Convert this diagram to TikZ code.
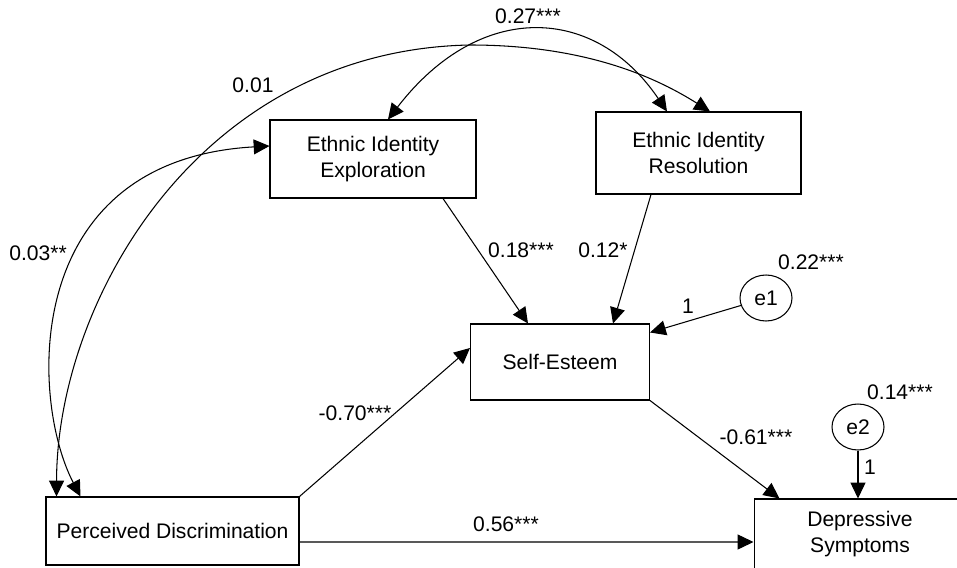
\documentclass[tikz,border=0pt]{standalone}
\usepackage{fontspec}
\setmainfont{Liberation Sans}
\usetikzlibrary{arrows.meta}
\usetikzlibrary{calc}
\usetikzlibrary{shapes.geometric}

\begin{document}
\begin{tikzpicture}[x=0.02cm, y=-0.02cm]
\tikzset{box/.style = {shape=rectangle,draw,line width=0.6pt,align=center,inner sep=0pt,font=\fontsize{12}{14.8}\selectfont}}
\tikzset{err/.style = {shape=ellipse,draw,line width=0.6pt,inner sep=0pt,minimum width=1.04cm,minimum height=0.92cm,font=\fontsize{12}{14.8}\selectfont}}
\tikzset{edge/.style = {-{Triangle[length=9pt,width=8.5pt]},line width=0.6pt}}
\tikzset{cov/.style = {{Triangle[length=9pt,width=8.5pt]}-{Triangle[length=9pt,width=8.5pt]},line width=0.6pt}}
\tikzset{lbl/.style = {inner sep=0pt,font=\fontsize{12}{14.8}\selectfont}}
\useasboundingbox (0,0) rectangle (957,568);
\node[box, minimum width=4.12cm, minimum height=1.56cm](expl) at (373,159) {Ethnic Identity\\Exploration};
\node[box, minimum width=4.1cm, minimum height=1.64cm](res) at (698.5,153) {Ethnic Identity\\Resolution};
\node[box, minimum width=5.06cm, minimum height=1.36cm](pd) at (172.5,531) {Perceived Discrimination};
\node[box, minimum width=3.58cm, minimum height=1.52cm](se) at (560,362) {Self-Esteem};
\node[box, minimum width=4.24cm, minimum height=1.42cm](dep) at (860,534.5) {Depressive\\Symptoms};
\node[err](e1) at (766,298) {e1};
\node[err](e2) at (858,427) {e2};
\node[lbl](l27) at (528,16) {0.27***};
\node[lbl](l01) at (253,85) {0.01};
\node[lbl](l03) at (38,253) {0.03**};
\node[lbl](l18) at (521,250) {0.18***};
\node[lbl](l12) at (603,250) {0.12*};
\node[lbl](l22) at (811,262) {0.22***};
\node[lbl](l1a) at (688,306) {1};
\node[lbl](l70) at (355,413) {-0.70***};
\node[lbl](l14) at (900,392) {0.14***};
\node[lbl](l61) at (756,437) {-0.61***};
\node[lbl](l1b) at (870,467) {1};
\node[lbl](l56) at (506,524) {0.56***};
% covariances
\draw[cov] ($(expl.north)+(15,0)$) .. controls (480,0) and (595,5) .. ($(res.north)+(-31.5,0)$);
\draw[cov] ($(pd.north west)+(11,0)$) .. controls (57,300) and (200,50) .. (470,45) .. controls (590,45) and (660,80) .. ($(res.north)+(11.5,0)$);
\draw[cov] ($(pd.north west)+(35,0)$) .. controls (30,400) and (20,160) .. ($(expl.west)+(0,-13)$);
% paths
\draw[edge] ($(expl.south)+(70,0)$) -- ($(se.north)+(-32,0)$);
\draw[edge] ($(res.south)+(-47.5,0)$) -- ($(se.north)+(53,0)$);
\draw[edge] (e1) -- ($(se.north east)+(0,9)$);
\draw[edge] (pd.north east) -- ($(se.west)+(0,-14)$);
\draw[edge] ($(pd.east)+(0,11)$) -- ($(dep.west)+(0,7.5)$);
\draw[edge] (se.south east) -- ($(dep.north west)+(26,0)$);
\draw[edge] (e2) -- (e2 |- dep.north);
\end{tikzpicture}
\end{document}
